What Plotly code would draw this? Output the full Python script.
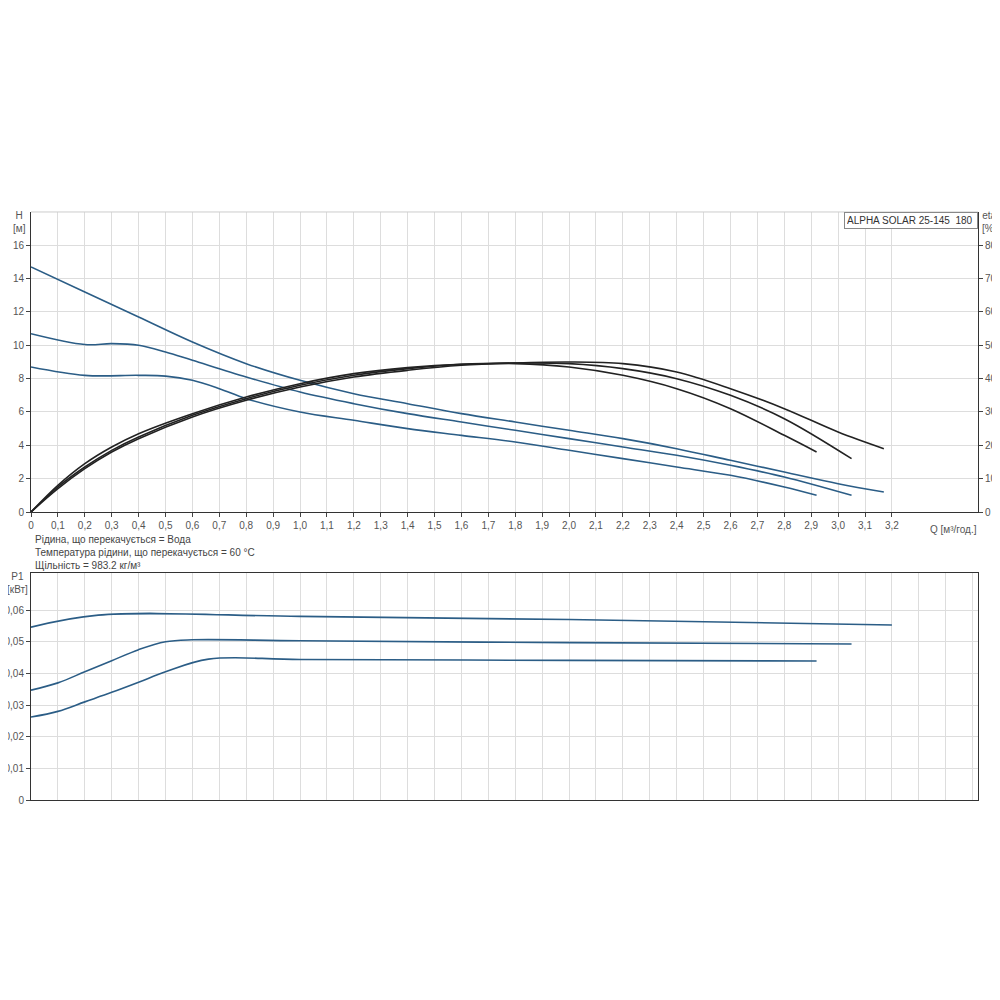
import plotly.graph_objects as go

q1 = [0, 0.2, 0.4, 0.6, 0.8, 1.0, 1.2, 1.4, 1.6, 1.8, 2.0, 2.2, 2.4, 2.6, 2.8, 3.0, 3.17]
h1 = [14.7, 13.2, 11.7, 10.2, 8.9, 7.9, 7.1, 6.5, 5.9, 5.4, 4.9, 4.4, 3.8, 3.1, 2.4, 1.7, 1.2]
q2 = [0, 0.2, 0.3, 0.4, 0.5, 0.6, 0.8, 1.0, 1.2, 1.4, 1.6, 1.8, 2.0, 2.2, 2.4, 2.6, 2.8, 3.05]
h2 = [10.7, 10.05, 10.1, 10.0, 9.6, 9.1, 8.1, 7.2, 6.5, 5.9, 5.4, 4.9, 4.4, 3.9, 3.4, 2.8, 2.1, 1.0]
q3 = [0, 0.2, 0.4, 0.5, 0.6, 0.7, 0.8, 1.0, 1.2, 1.4, 1.6, 1.8, 2.0, 2.2, 2.4, 2.6, 2.8, 2.92]
h3 = [8.7, 8.2, 8.2, 8.15, 7.9, 7.4, 6.8, 6.0, 5.5, 5.0, 4.6, 4.2, 3.7, 3.2, 2.7, 2.2, 1.5, 1.0]

eq1 = [0, 0.1, 0.2, 0.3, 0.4, 0.6, 0.8, 1.0, 1.2, 1.4, 1.6, 1.8, 2.0, 2.2, 2.4, 2.6, 2.8, 3.0, 3.17]
e1 = [0, 7, 13, 18, 22, 28.5, 33.5, 37.5, 40.5, 42.5, 44, 44.7, 45, 44.5, 42, 37, 31, 24, 19]
eq2 = [0, 0.1, 0.2, 0.3, 0.4, 0.6, 0.8, 1.0, 1.2, 1.4, 1.6, 1.8, 2.0, 2.2, 2.4, 2.6, 2.8, 3.05]
e2 = [0, 7.5, 13.5, 18.5, 22.5, 29, 34, 38, 41, 43, 44.3, 44.7, 44.5, 43, 40, 35, 28, 16]
eq3 = [0, 0.1, 0.2, 0.3, 0.4, 0.6, 0.8, 1.0, 1.2, 1.4, 1.6, 1.8, 2.0, 2.2, 2.4, 2.6, 2.8, 2.92]
e3 = [0, 8, 14.5, 19.5, 23.5, 29.5, 34.5, 38.5, 41.5, 43.3, 44.3, 44.5, 43.5, 41, 37, 31, 23, 18]

pq1 = [0, 0.25, 1.0, 2.0, 3.2]
p1 = [0.0546, 0.0584, 0.0580, 0.0570, 0.0553]
pq2 = [0, 0.1, 0.2, 0.3, 0.4, 0.5, 0.6, 1.0, 2.0, 3.05]
p2 = [0.0347, 0.0370, 0.0405, 0.0440, 0.0475, 0.0500, 0.0506, 0.0503, 0.0497, 0.0493]
pq3 = [0, 0.1, 0.2, 0.3, 0.4, 0.5, 0.66, 1.0, 2.0, 2.92]
p3 = [0.0262, 0.0280, 0.0310, 0.0340, 0.0372, 0.0405, 0.0445, 0.0444, 0.0441, 0.0439]

xt = [round(i * 0.1, 1) for i in range(33)]
xl = ["0"] + [f"{v:.1f}".replace(".", ",") for v in xt[1:]]

blue = "#2b5d86"
black = "#222222"
fig = go.Figure()
for q, h in [(q1, h1), (q2, h2), (q3, h3)]:
    fig.add_trace(go.Scatter(x=q, y=h, mode="lines", line=dict(color=blue, width=1.6, shape="spline"), xaxis="x", yaxis="y"))
for q, e in [(eq1, e1), (eq2, e2), (eq3, e3)]:
    fig.add_trace(go.Scatter(x=q, y=e, mode="lines", line=dict(color=black, width=1.6, shape="spline"), xaxis="x", yaxis="y2"))
for q, p in [(pq1, p1), (pq2, p2), (pq3, p3)]:
    fig.add_trace(go.Scatter(x=q, y=p, mode="lines", line=dict(color=blue, width=1.6, shape="spline"), xaxis="x2", yaxis="y3"))

tf = dict(size=10, color="#555")
grid = "#dddddd"
T0, T1 = 0.4878, 0.7927
B0, B1 = 0.1951, 0.4258
fig.update_layout(
    width=984, height=984, showlegend=False, plot_bgcolor="white", paper_bgcolor="white",
    margin=dict(l=23, r=14, t=0, b=0, autoexpand=False), font=dict(family="Liberation Sans, Arial", size=10, color="#555"),
    xaxis=dict(domain=[0, 1], range=[0, 3.52], tickvals=xt, ticktext=xl, showgrid=True, gridcolor=grid,
               showline=True, linecolor="#333", ticks="outside", ticklen=4, tickfont=tf, zeroline=False, anchor="y"),
    yaxis=dict(domain=[T0, T1], range=[0, 18], tickvals=list(range(0, 17, 2)), showgrid=True, gridcolor=grid,
               showline=True, linecolor="#333", ticks="outside", ticklen=4, tickfont=tf, zeroline=False),
    yaxis2=dict(overlaying="y", side="right", range=[0, 90], tickvals=list(range(0, 81, 10)), showgrid=False,
                showline=True, linecolor="#333", ticks="outside", ticklen=4, tickfont=tf, zeroline=False),
    xaxis2=dict(domain=[0, 1], range=[0, 3.52], tickvals=xt + [3.3, 3.4, 3.5], showticklabels=False, showgrid=True,
                gridcolor=grid, showline=True, linecolor="#333", mirror=True, zeroline=False, anchor="y3"),
    yaxis3=dict(domain=[B0, B1], range=[0, 0.0717], tickvals=[0, 0.01, 0.02, 0.03, 0.04, 0.05, 0.06],
                ticktext=["0", "0,01", "0,02", "0,03", "0,04", "0,05", "0,06"], showgrid=True, gridcolor=grid,
                showline=True, linecolor="#333", mirror=True, ticks="outside", ticklen=4, tickfont=tf, zeroline=False, anchor="x2"),
)
fig.update_layout(shapes=[dict(type="line", xref="paper", yref="paper", x0=0, x1=1, y0=T1, y1=T1, line=dict(color="#ccc", width=1))])
ann = [
    dict(text="H<br>[м]", xref="paper", yref="paper", x=-0.012, y=T1 + 0.004, xanchor="center", yanchor="top", showarrow=False, font=tf),
    dict(text="eta<br>[%]", xref="paper", yref="paper", x=1.012, y=T1 + 0.004, xanchor="center", yanchor="top", showarrow=False, font=tf),
    dict(text="P1<br>[кВт]", xref="paper", yref="paper", x=-0.014, y=B1 + 0.004, xanchor="center", yanchor="top", showarrow=False, font=tf),
    dict(text="Q [м³/год.]", xref="x", yref="paper", x=3.43, y=T0 - 0.01, xanchor="center", yanchor="top", showarrow=False, font=tf),
    dict(text="ALPHA SOLAR 25-145  180", xref="paper", yref="paper", x=1.0, y=T1, xanchor="right", yanchor="top",
         showarrow=False, font=dict(size=10, color="#333"), bordercolor="#888", borderwidth=1, bgcolor="white", borderpad=2,
         width=128, align="left"),
    dict(text="Рідина, що перекачується = Вода<br>Температура рідини, що перекачується = 60 °C<br>Щільність = 983.2 кг/м³",
         xref="paper", yref="paper", x=0.002, y=T0 - 0.02, xanchor="left", yanchor="top", showarrow=False, align="left",
         font=dict(size=10, color="#444")),
]
fig.update_layout(annotations=ann)
fig.write_html("out.html")
